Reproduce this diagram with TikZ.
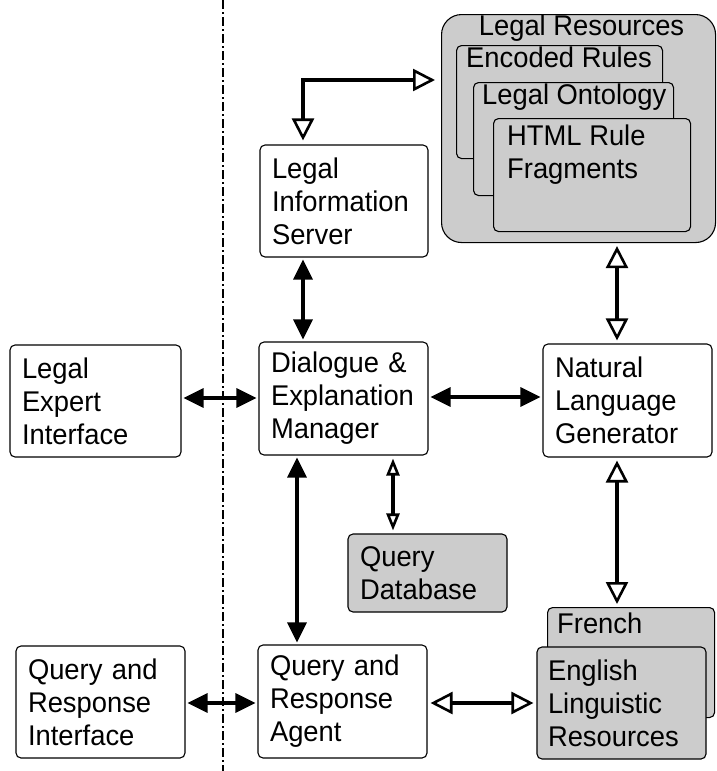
\documentclass[tikz,border=0pt]{standalone}
\usepackage{fontspec}
\setmainfont[FakeStretch=0.96]{Liberation Sans}
\usetikzlibrary{arrows.meta,calc}
\definecolor{resgrey}{HTML}{CCCCCC}
\begin{document}
\begin{tikzpicture}[x=1pt,y=-1pt,
  txt/.style={font=\fontsize{28.5}{33}\selectfont, align=left, inner sep=0pt},
  box/.style={txt, draw, line width=1.1pt, rounded corners=5pt, fill=white},
  gbox/.style={box, fill=resgrey},
  sbox/.style 2 args={box, minimum width=#1, minimum height=#2, text width=#1-24pt},
  conn/.style={line width=3.2pt},
  solid2/.style={conn, {Triangle[length=20pt,width=19pt]}-{Triangle[length=20pt,width=19pt]}, shorten <=2pt, shorten >=2pt},
  open2/.style={conn, {Triangle[fill=white,length=22pt,width=22pt,line width=2.6pt]}-{Triangle[fill=white,length=22pt,width=22pt,line width=2.6pt]}, shorten <=3pt, shorten >=3pt},
  opensmall/.style={conn, {Triangle[fill=white,length=17pt,width=13pt,line width=2.6pt]}-{Triangle[fill=white,length=17pt,width=13pt,line width=2.6pt]}, shorten <=3pt, shorten >=3pt}
]
\useasboundingbox (0,0) rectangle (716,771);

% separator
\draw[line width=2pt, dash pattern=on 9pt off 3pt on 2pt off 3pt] (223,0) -- (223,771);

% Legal resources group
\node[draw, line width=1.1pt, rounded corners=20pt, fill=resgrey, minimum width=274pt, minimum height=228pt, inner sep=0pt, anchor=north west] (lr) at (441,14) {};
\node[txt, anchor=north] (lrt) at ($(lr.north)+(3,1)$) {Legal Resources};
\node[gbox, minimum width=206pt, minimum height=113pt, anchor=north west] (er) at (456,45) {};
\node[txt, anchor=north west] (ert) at ($(er.north west)+(10,2)$) {Encoded Rules};
\node[gbox, minimum width=200pt, minimum height=113pt, anchor=north west] (lo) at (473,82) {};
\node[txt, anchor=north west] (lot) at ($(lo.north west)+(9,2)$) {Legal Ontology};
\node[gbox, minimum width=197pt, minimum height=113pt, anchor=north west] (html) at (493,118) {};
\node[txt, anchor=north west] (htmlt) at ($(html.north west)+(14,7)$) {HTML Rule\\Fragments};

% main boxes
\node[sbox={168pt}{112pt}] (lis) at (344,201) {Legal\\Information\\Server};
\node[sbox={171pt}{112pt}] (lei) at (95.5,401) {Legal\\Expert\\Interface};
\node[sbox={169pt}{113pt}] (dem) at (343.5,398.5) {Dialogue \&\\Explanation\\Manager};
\node[sbox={169pt}{113pt}] (nlg) at (627.5,400.5) {Natural\\Language\\Generator};
\node[sbox={159pt}{78pt}, fill=resgrey] (qdb) at (427.5,573) {Query\\Database};
\node[sbox={169pt}{112pt}] (qri) at (100.5,702) {Query and\\Response\\Interface};
\node[sbox={169pt}{113pt}] (qra) at (342.5,701.5) {Query and\\Response\\Agent};

% linguistic resources
\node[gbox, minimum width=167pt, minimum height=110pt, anchor=north west] (fr) at (547,607) {};
\node[txt, anchor=north west] (frt) at ($(fr.north west)+(10,6)$) {French};
\node[gbox, minimum width=169pt, minimum height=112pt, text width=147pt] (en) at (621.5,703) {English\\Linguistic\\Resources};

% connectors
\coordinate (bend) at (303,80);
\draw[conn, {Triangle[fill=white,length=22pt,width=22pt,line width=2.6pt]}-{Triangle[fill=white,length=22pt,width=22pt,line width=2.6pt]}, shorten <=4pt, shorten >=6pt]
  (lis.north -| bend) -- (bend) -- (bend -| lr.west);

\coordinate (xa) at (303,0);
\draw[solid2] (lis.south -| xa) -- (dem.north -| xa);

\draw[solid2] (lei.east |- 0,398) -- (dem.west |- 0,398);
\draw[solid2] (dem.east |- 0,397) -- (nlg.west |- 0,397);

\coordinate (xb) at (297,0);
\draw[solid2] (dem.south -| xb) -- (qra.north -| xb);

\coordinate (xc) at (393,0);
\draw[opensmall] (dem.south -| xc) -- (qdb.north -| xc);

\coordinate (xd) at (617,0);
\draw[open2] (lr.south -| xd) -- (nlg.north -| xd);
\draw[open2] (nlg.south -| xd) -- (fr.north -| xd);

\draw[solid2] (qri.east |- 0,703) -- (qra.west |- 0,703);
\draw[open2] (qra.east |- 0,703) -- (en.west |- 0,703);
\end{tikzpicture}
\end{document}
